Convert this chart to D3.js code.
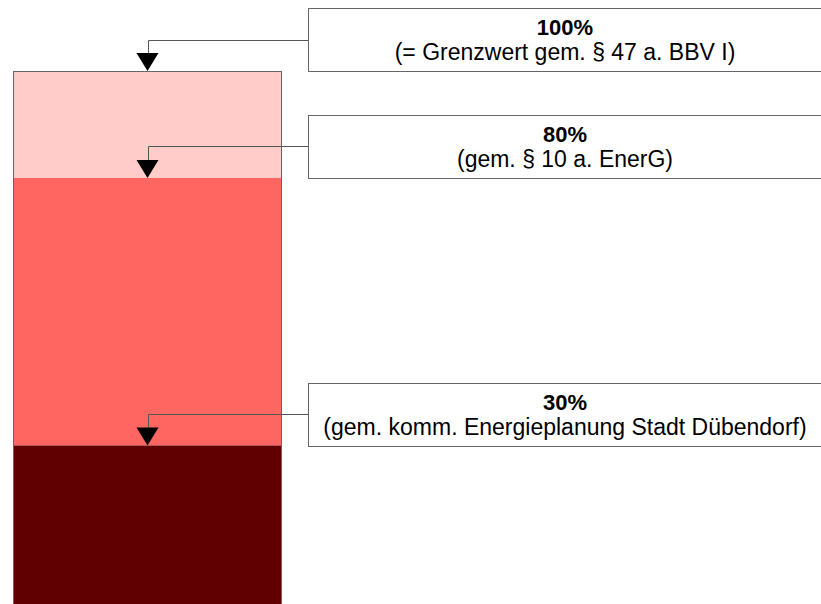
<!DOCTYPE html>
<html>
<head>
<meta charset="utf-8">
<script src="https://cdn.jsdelivr.net/npm/d3@7"></script>
<style>
  html, body { margin: 0; padding: 0; background: #fff; }
  svg { display: block; font-family: 'Liberation Sans', Arial, sans-serif; }
</style>
</head>
<body>
<div class="canvas"></div>
<script>
// stacked bar segments (percent of limit)
const segmentLow = [80, 30, 0];
const segmentHigh = [100, 80, 30];
const segmentColours = ['#ffccc9', '#ff6662', '#600000'];

// callout labels
const markLevels = [100, 80, 30];
const markTitles = ['100%', '80%', '30%'];
const markNotes = [
  '(= Grenzwert gem. § 47 a. BBV I)',
  '(gem. § 10 a. EnerG)',
  '(gem. komm. Energieplanung Stadt Dübendorf)',
];

const dims = { width: 821, height: 604 };
const box = { left: 308, width: 514, height: 63 };

const svg = d3
  .select('.canvas')
  .append('svg')
  .attr('width', dims.width)
  .attr('height', dims.height);

const y = d3.scaleLinear().domain([0, 100]).range([606, 71]);
const x = d3.scaleBand().domain(['bar']).range([13, 282]).padding(0);

// bar segments
svg
  .selectAll('rect.seg')
  .data(segmentHigh)
  .enter()
  .append('rect')
  .attr('class', 'seg')
  .attr('x', x('bar'))
  .attr('width', x.bandwidth())
  .attr('y', (d) => y(d))
  .attr('height', (d, i) => y(segmentLow[i]) - y(d))
  .attr('fill', (d, i) => segmentColours[i]);

// outline of the whole bar
svg
  .append('rect')
  .attr('x', x('bar') + 0.5)
  .attr('y', y(100) + 0.5)
  .attr('width', x.bandwidth() - 1)
  .attr('height', y(0) - y(100))
  .attr('fill', 'none')
  .attr('stroke', '#666')
  .attr('stroke-width', 1);

const cx = x('bar') + x.bandwidth() / 2;

// callouts
const marks = svg
  .selectAll('g.mark')
  .data(markLevels)
  .enter()
  .append('g')
  .attr('class', 'mark');

marks
  .append('rect')
  .attr('x', box.left + 0.5)
  .attr('y', (d) => Math.round(y(d)) - box.height + 0.5)
  .attr('width', box.width)
  .attr('height', box.height)
  .attr('fill', '#fff')
  .attr('stroke', '#666')
  .attr('stroke-width', 1);

// connector line
marks
  .append('path')
  .attr('d', (d) => {
    const ly = Math.round(y(d) - box.height / 2) + 0.5;
    return `M${box.left},${ly}H${Math.round(cx) + 0.5}V${y(d) - 14}`;
  })
  .attr('fill', 'none')
  .attr('stroke', '#555')
  .attr('stroke-width', 1);

// arrowhead
marks
  .append('path')
  .attr('d', (d) => {
    const tip = y(d);
    return `M${cx - 11},${tip - 18}L${cx + 11},${tip - 18}L${cx},${tip}Z`;
  })
  .attr('fill', '#000');

const tx = box.left + box.width / 2;

marks
  .append('text')
  .attr('x', tx)
  .attr('y', (d) => Math.round(y(d)) - box.height + 27)
  .attr('text-anchor', 'middle')
  .attr('font-weight', 'bold')
  .attr('font-size', 22)
  .attr('fill', '#000')
  .text((d, i) => markTitles[i]);

marks
  .append('text')
  .attr('x', tx)
  .attr('y', (d) => Math.round(y(d)) - box.height + 52)
  .attr('text-anchor', 'middle')
  .attr('font-size', 23)
  .attr('fill', '#000')
  .text((d, i) => markNotes[i]);
</script>
</body>
</html>
